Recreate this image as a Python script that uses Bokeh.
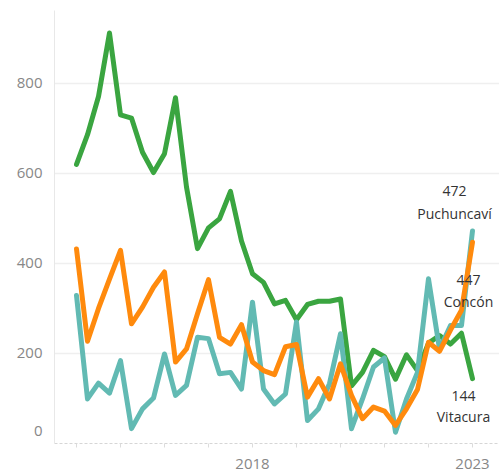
from bokeh.plotting import figure
from bokeh.models import FixedTicker, Range1d, Label
from bokeh.embed import file_html
from bokeh.resources import INLINE

# Quarterly periods 2014-Q1 .. 2023-Q1
quarters = [f"{y}Q{q}" for y in range(2014, 2024) for q in (1, 2, 3, 4)][:37]

names = ["Puchuncaví", "Concón", "Vitacura"]
colors = ["#62bab3", "#ff8a0d", "#3aa540"]

teal = [329, 99, 134, 112, 184, 33, 77, 101, 199, 107, 129, 236, 233, 155, 158, 121,
        314, 121, 88, 110, 270, 51, 77, 133, 244, 33, 99, 170, 190, 25, 99, 158,
        366, 210, 262, 262, 472]
orange = [432, 227, 300, 365, 429, 266, 303, 347, 381, 181, 210, 288, 364, 236, 221, 264,
          181, 162, 153, 215, 220, 103, 144, 99, 177, 107, 55, 81, 72, 40, 77, 120,
          225, 205, 252, 296, 447]
green = [620, 686, 771, 912, 730, 723, 647, 602, 644, 768, 570, 433, 479, 499, 560, 450,
         377, 358, 310, 318, 275, 309, 316, 316, 321, 128, 158, 207, 193, 143, 197, 162,
         223, 240, 221, 245, 144]

year_ticks = [2014, 2015, 2016, 2017, 2018, 2019, 2020, 2021, 2022, 2023]
shown_years = [2018, 2023]
y_ticks = [200, 400, 600, 800]
zero_label_pos = 27  # the "0" label sits slightly above the baseline, as in the reference

x = [int(s[:4]) + (int(s[-1]) - 1) / 4 for s in quarters]

p = figure(width=499, height=476, output_backend="svg", toolbar_location=None,
           x_range=Range1d(2013.5, 2023.614), y_range=Range1d(0, 962),
           min_border_left=54, min_border_right=0, min_border_top=10, min_border_bottom=33)
p.outline_line_color = None
p.background_fill_color = "white"

series = [green, teal, orange]
scols = [colors[2], colors[0], colors[1]]
for ys, c in zip(series, scols):
    p.line(x, ys, line_color=c, line_width=5, line_join="round", line_cap="round")

# axes
p.yaxis.ticker = FixedTicker(ticks=[zero_label_pos] + y_ticks)
p.yaxis.major_label_overrides = {zero_label_pos: "0"}
p.ygrid.ticker = FixedTicker(ticks=y_ticks)
p.ygrid.grid_line_color = "#efefef"
p.ygrid.grid_line_width = 1.5
p.xgrid.grid_line_color = None
p.yaxis.axis_line_color = "#e8e8e8"
p.yaxis.major_tick_line_color = None
p.yaxis.major_tick_out = 0
p.yaxis.major_tick_in = 0
p.yaxis.minor_tick_line_color = None
p.yaxis.major_label_standoff = 12
p.yaxis.major_label_text_font = "Open Sans"
p.yaxis.major_label_text_font_size = "15px"
p.yaxis.major_label_text_color = "#878787"

p.xaxis.ticker = FixedTicker(ticks=year_ticks)
p.xaxis.major_label_overrides = {t: (str(t) if t in shown_years else "") for t in year_ticks}
p.xaxis.axis_line_color = "#d6d6d6"
p.xaxis.axis_line_dash = "3 2"
p.xaxis.major_tick_line_color = "#dcdcdc"
p.xaxis.major_tick_in = 0
p.xaxis.major_tick_out = 4
p.xaxis.minor_tick_line_color = None
p.xaxis.major_label_standoff = 11
p.xaxis.major_label_text_font = "Open Sans"
p.xaxis.major_label_text_font_size = "15px"
p.xaxis.major_label_text_color = "#878787"

# end labels
ends = [teal, orange, green]
offs = [(-18, 40, 18), (-4, -38, -59), (-9, -17, -38)]
for nm, ys, (dx, dv, dn) in zip(names, ends, offs):
    for txt, dy in ((f"{ys[-1]}", dv), (nm, dn)):
        p.add_layout(Label(x=x[-1], y=ys[-1], text=txt, x_offset=dx, y_offset=dy,
                           text_align="center", text_baseline="middle",
                           text_font="Open Sans", text_font_size="14px",
                           text_color="#333333"))

open("out.html", "w").write(file_html(p, INLINE))
